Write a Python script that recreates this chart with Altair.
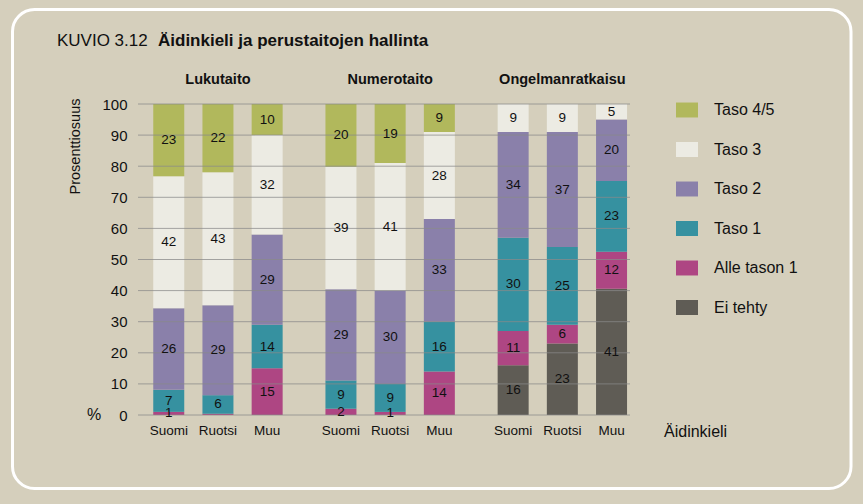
import altair as alt
import pandas as pd

# ---------------- data ----------------
groups = ["Lukutaito", "Numerotaito", "Ongelmanratkaisu"]
languages = ["Suomi", "Ruotsi", "Muu"]
# stacking order, bottom -> top
levels = ["Ei tehty", "Alle tason 1", "Taso 1", "Taso 2", "Taso 3", "Taso 4/5"]

# values per bar: Lukutaito (Suomi, Ruotsi, Muu), Numerotaito (...), Ongelmanratkaisu (...)
ei_tehty = [0, 0, 0, 0, 0, 0, 16, 23, 41]
alle_tason_1 = [1, 0.4, 15, 2, 1, 14, 11, 6, 12]
taso_1 = [7, 6, 14, 9, 9, 16, 30, 25, 23]
taso_2 = [26, 29, 29, 29, 30, 33, 34, 37, 20]
taso_3 = [42, 43, 32, 39, 41, 28, 9, 9, 5]
taso_45 = [23, 22, 10, 20, 19, 9, 0, 0, 0]

series = [ei_tehty, alle_tason_1, taso_1, taso_2, taso_3, taso_45]

legend_order = ["Taso 4/5", "Taso 3", "Taso 2", "Taso 1", "Alle tason 1", "Ei tehty"]
legend_colors = ["#b1b85c", "#ecebe3", "#8a80aa", "#3691a0", "#ae4683", "#5f5c55"]

y_ticks = [0, 10, 20, 30, 40, 50, 60, 70, 80, 90, 100]

title_plain = "KUVIO 3.12"
title_bold = "Äidinkieli ja perustaitojen hallinta"
y_title = "Prosenttiosuus"
x_title = "Äidinkieli"

# ---------------- tables ----------------
rows = []
for gi, g in enumerate(groups):
    for li, lang in enumerate(languages):
        idx = gi * 3 + li
        for lv_i, (lv, vals) in enumerate(zip(levels, series)):
            if vals[idx] > 0:
                rows.append(dict(key=f"{g}|{lang}", level=lv, order=lv_i, value=vals[idx]))
df = pd.DataFrame(rows)

# x slots (spacers give the gaps between groups)
lead = [2, 5, 5]
slots = []
bar_keys = []
for gi, g in enumerate(groups):
    slots += [f"_a{gi}_{k}" for k in range(lead[gi])]
    for li, lang in enumerate(languages):
        if li > 0:
            slots += [f"_b{gi}_{li}_{k}" for k in range(3)]
        slots.append(f"{g}|{lang}")
        bar_keys.append(f"{g}|{lang}")
slots.append("_end")

group_df = pd.DataFrame({"group": groups, "key": [f"{g}|{languages[1]}" for g in groups]})
tick_df = pd.DataFrame({"tick": y_ticks})

PW, PH = 492, 311
L, T = 138, 104
BG = "#d5cfbc"
INK = "#111111"
FONT = "Liberation Sans"

x_scale = alt.Scale(type="band", domain=slots, paddingInner=0, paddingOuter=0)
x_axis = alt.Axis(
    values=bar_keys,
    labelExpr="split(datum.value, '|')[1]",
    title=None,
    domain=False,
    ticks=False,
    labelAngle=0,
    labelFontSize=13.5,
    labelPadding=8,
    labelColor=INK,
    grid=False,
)
y_scale = alt.Scale(domain=[0, 100], nice=False, zero=True)
y_axis = alt.Axis(
    values=y_ticks,
    tickCount=11,
    title=None,
    domain=False,
    ticks=False,
    labelFontSize=15,
    labelPadding=11,
    labelColor=INK,
    labelOverlap=False,
    labelFlush=False,
    grid=False,
)

base = (
    alt.Chart(df)
    .transform_stack(
        stack="value",
        groupby=["key"],
        sort=[alt.SortField("order", order="ascending")],
        as_=["y0", "y1"],
        offset="normalize",
    )
    .transform_calculate(b0="datum.y0*100", b1="datum.y1*100", mid="(datum.y0+datum.y1)*50")
)

bars = base.mark_bar(size=31).encode(
    x=alt.X("key:N", scale=x_scale, axis=x_axis),
    y=alt.Y("b0:Q", scale=y_scale, axis=y_axis),
    y2="b1:Q",
    color=alt.Color(
        "level:N",
        scale=alt.Scale(domain=legend_order, range=legend_colors),
        legend=alt.Legend(
            orient="none",
            legendX=538,
            legendY=-5,
            title=None,
            symbolType="M-1,-0.68L1,-0.68L1,0.68L-1,0.68Z",
            symbolSize=484,
            symbolStrokeWidth=0,
            symbolOpacity=1,
            labelFontSize=16,
            labelOffset=16,
            labelColor=INK,
            rowPadding=20.5,
            padding=0,
        ),
    ),
)

grid = alt.Chart(tick_df).mark_rule(color="#8a8a8a", strokeWidth=1, opacity=0.75).encode(
    y=alt.Y("tick:Q", scale=y_scale, axis=y_axis),
    x=alt.value(0),
    x2=alt.value(PW),
)

labels = base.transform_filter("datum.value >= 1").mark_text(
    fontSize=13.5, color=INK, baseline="middle"
).encode(
    x=alt.X("key:N", scale=x_scale, axis=x_axis),
    y=alt.Y("mid:Q", scale=y_scale, axis=y_axis),
    text=alt.Text("value:Q", format=".0f"),
)

group_titles = alt.Chart(group_df).mark_text(
    fontSize=14.5, fontWeight="bold", color=INK, baseline="alphabetic"
).encode(x=alt.X("key:N", scale=x_scale, axis=x_axis), y=alt.value(-20), text="group:N")

one = pd.DataFrame({"t": [0]})

frame = alt.Chart(one).mark_rect(
    cornerRadius=22, fillOpacity=0, stroke="white", strokeWidth=3
).encode(
    x=alt.value(12.5 - L), x2=alt.value(851 - L),
    y=alt.value(9.5 - T), y2=alt.value(488.5 - T),
)

t1 = alt.Chart(pd.DataFrame({"t": [title_plain]})).mark_text(
    fontSize=17, color=INK, align="left", baseline="alphabetic"
).encode(x=alt.value(57 - L), y=alt.value(46 - T), text="t:N")

t2 = alt.Chart(pd.DataFrame({"t": [title_bold]})).mark_text(
    fontSize=17, fontWeight="bold", color=INK, align="left", baseline="alphabetic"
).encode(x=alt.value(158 - L), y=alt.value(46 - T), text="t:N")

ytitle = alt.Chart(pd.DataFrame({"t": [y_title]})).mark_text(
    fontSize=14.5, color=INK, angle=270, align="center", baseline="middle"
).encode(x=alt.value(76 - L), y=alt.value(146.5 - T), text="t:N")

pct = alt.Chart(pd.DataFrame({"t": ["%"]})).mark_text(
    fontSize=16, color=INK, align="center", baseline="middle"
).encode(x=alt.value(94 - L), y=alt.value(PH), text="t:N")

xtitle = alt.Chart(pd.DataFrame({"t": [x_title]})).mark_text(
    fontSize=16, color=INK, align="left", baseline="alphabetic"
).encode(x=alt.value(664 - L), y=alt.value(437 - T), text="t:N")

chart = (
    alt.layer(frame, bars, grid, labels, group_titles, t1, t2, ytitle, pct, xtitle)
    .properties(
        width=PW,
        height=PH,
        autosize=alt.AutoSizeParams(type="none"),
        padding={"left": L, "top": T, "right": 863 - L - PW, "bottom": 504 - T - PH},
        background=BG,
    )
    .configure(font=FONT)
    .configure_view(stroke=None)
)

chart.save("out.html", embed_options={"renderer": "svg", "actions": False})
